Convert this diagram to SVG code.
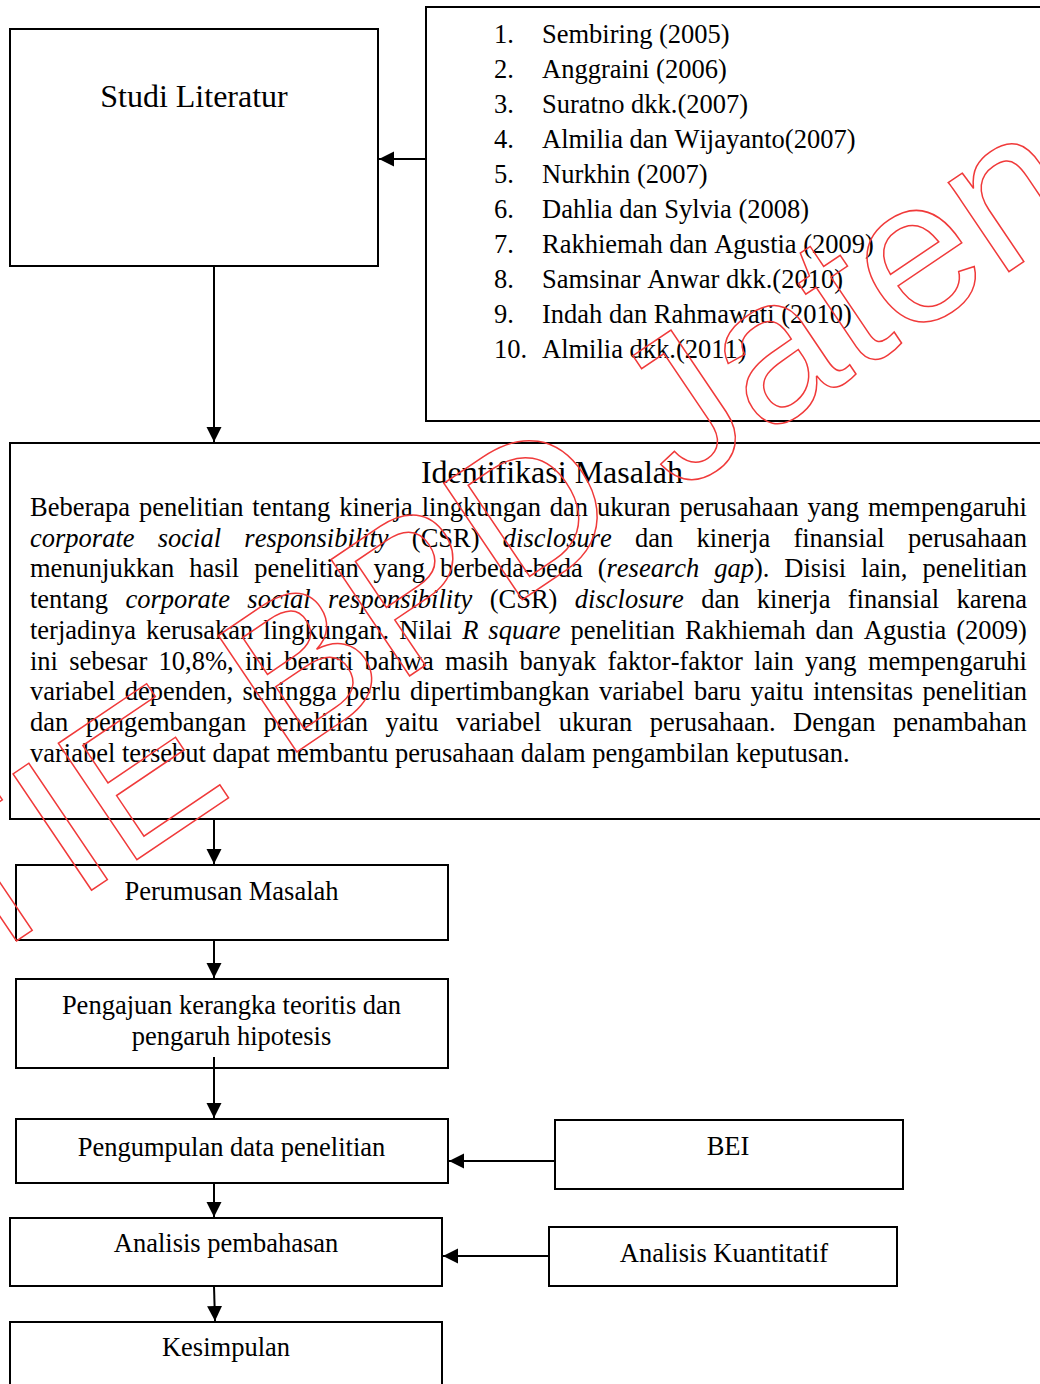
<svg xmlns="http://www.w3.org/2000/svg" width="1040" height="1384" viewBox="0 0 1040 1384">
<style>
.box{fill:#fff;stroke:#000;stroke-width:2}
.t{font-family:"Liberation Serif","Times New Roman",serif;font-size:26.5px;fill:#000;font-kerning:none;font-variant-ligatures:none}
.big{font-size:32px}
.c{text-anchor:middle}
.i{font-style:italic}
.conn line{stroke:#000;stroke-width:2}
.wm{font-family:"Liberation Sans",Arial,sans-serif;font-size:204px;fill:none;stroke:#f03a3a;stroke-width:1.5}
</style>
<defs>
<marker id="ah" markerUnits="userSpaceOnUse" markerWidth="16" markerHeight="16" refX="15" refY="7.5" orient="auto">
<path d="M0,0 L15,7.5 L0,15 z" fill="#000"/>
</marker>
</defs>
<rect width="1040" height="1384" fill="#fff"/>

<g id="studi">
<rect class="box" x="10" y="29" width="368" height="237"/>
<text class="t big c" x="194" y="107">Studi Literatur</text>
</g>

<g id="referensi">
<rect class="box" x="426" y="7" width="630" height="414"/>
<g class="t">
<text x="494" y="43">1.</text><text x="542" y="43">Sembiring (2005)</text>
<text x="494" y="78">2.</text><text x="542" y="78">Anggraini (2006)</text>
<text x="494" y="113">3.</text><text x="542" y="113">Suratno dkk.(2007)</text>
<text x="494" y="148">4.</text><text x="542" y="148">Almilia dan Wijayanto(2007)</text>
<text x="494" y="183">5.</text><text x="542" y="183">Nurkhin (2007)</text>
<text x="494" y="218">6.</text><text x="542" y="218">Dahlia dan Sylvia (2008)</text>
<text x="494" y="253">7.</text><text x="542" y="253">Rakhiemah dan Agustia (2009)</text>
<text x="494" y="288">8.</text><text x="542" y="288">Samsinar Anwar dkk.(2010)</text>
<text x="494" y="323">9.</text><text x="542" y="323">Indah dan Rahmawati (2010)</text>
<text x="494" y="358">10.</text><text x="542" y="358">Almilia dkk.(2011)</text>
</g>
</g>

<g id="identifikasi">
<rect class="box" x="10" y="443" width="1046" height="376"/>
<text class="t big c" x="552" y="483">Identifikasi Masalah</text>
<g class="t">
<text x="30" y="516" word-spacing="2.27">Beberapa penelitian tentang kinerja lingkungan dan ukuran perusahaan yang mempengaruhi</text>
<text x="30" y="546.7" word-spacing="16.63"><tspan class="i">corporate social responsibility</tspan> (CSR) <tspan class="i">disclosure</tspan> dan kinerja finansial perusahaan</text>
<text x="30" y="577.4" word-spacing="8.31">menunjukkan hasil penelitian yang berbeda-beda (<tspan class="i">research gap</tspan>). Disisi lain, penelitian</text>
<text x="30" y="608.1" word-spacing="10.77">tentang <tspan class="i">corporate social responsibility</tspan> (CSR) <tspan class="i">disclosure</tspan> dan kinerja finansial karena</text>
<text x="30" y="638.8" word-spacing="3.36">terjadinya kerusakan lingkungan. Nilai <tspan class="i">R square</tspan> penelitian Rakhiemah dan Agustia (2009)</text>
<text x="30" y="669.5" word-spacing="4.66">ini sebesar 10,8%, ini berarti bahwa masih banyak faktor-faktor lain yang mempengaruhi</text>
<text x="30" y="700.2" word-spacing="2.85">variabel dependen, sehingga perlu dipertimbangkan variabel baru yaitu intensitas penelitian</text>
<text x="30" y="730.9" word-spacing="10.83">dan pengembangan penelitian yaitu variabel ukuran perusahaan. Dengan penambahan</text>
<text x="30" y="761.6">variabel tersebut dapat membantu perusahaan dalam pengambilan keputusan.</text>
</g>
</g>

<g id="perumusan">
<rect class="box" x="16" y="865" width="432" height="75"/>
<text class="t c" x="231.5" y="900">Perumusan Masalah</text>
</g>

<g id="pengajuan">
<rect class="box" x="16" y="979" width="432" height="89"/>
<text class="t c" x="231.5" y="1014">Pengajuan kerangka teoritis dan</text>
<text class="t c" x="231.5" y="1045">pengaruh hipotesis</text>
</g>

<g id="pengumpulan">
<rect class="box" x="16" y="1119" width="432" height="64"/>
<text class="t c" x="231.5" y="1156">Pengumpulan data penelitian</text>
</g>

<g id="bei">
<rect class="box" x="555" y="1120" width="348" height="69"/>
<text class="t c" x="728" y="1155">BEI</text>
</g>

<g id="analisis">
<rect class="box" x="10" y="1218" width="432" height="68"/>
<text class="t c" x="226" y="1252">Analisis pembahasan</text>
</g>

<g id="kuantitatif">
<rect class="box" x="549" y="1227" width="348" height="59"/>
<text class="t c" x="724" y="1262">Analisis Kuantitatif</text>
</g>

<g id="kesimpulan">
<rect class="box" x="10" y="1322" width="432" height="80"/>
<text class="t c" x="226" y="1356">Kesimpulan</text>
</g>

<g id="connectors" class="conn">
<line x1="426" y1="159" x2="379" y2="159" marker-end="url(#ah)"/>
<line x1="214" y1="266" x2="214" y2="442" marker-end="url(#ah)"/>
<line x1="214" y1="819" x2="214" y2="864" marker-end="url(#ah)"/>
<line x1="214" y1="940" x2="214" y2="978" marker-end="url(#ah)"/>
<line x1="214" y1="1057" x2="214" y2="1118" marker-end="url(#ah)"/>
<line x1="214" y1="1183" x2="214" y2="1217" marker-end="url(#ah)"/>
<line x1="214" y1="1286" x2="215" y2="1321" marker-end="url(#ah)"/>
<line x1="555" y1="1161" x2="449" y2="1161" marker-end="url(#ah)"/>
<line x1="549" y1="1256" x2="443" y2="1256" marker-end="url(#ah)"/>
</g>

<g id="watermark">
<text class="wm" transform="translate(-140,1046.5) rotate(-34)">STIE BPD Jateng</text>
</g>
</svg>
